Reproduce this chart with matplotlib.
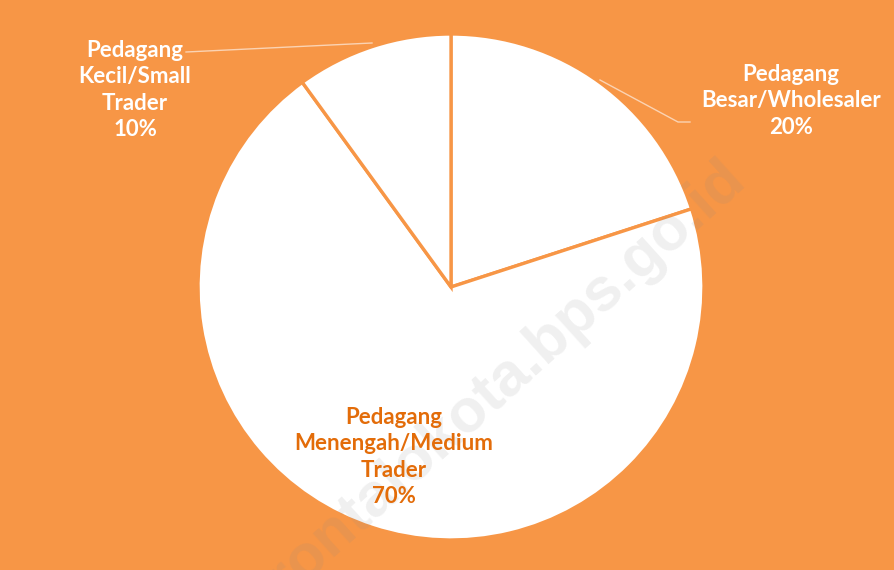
import matplotlib
matplotlib.use("Agg")
import matplotlib.pyplot as plt

categories = ["Pedagang\nBesar/Wholesaler", "Pedagang\nMenengah/Medium\nTrader", "Pedagang\nKecil/Small\nTrader"]
values = [20, 70, 10]
pct_labels = ["20%", "70%", "10%"]

BG = "#F79646"
LABEL_DARK = "#E36C09"

plt.rcParams['font.family'] = ['Lato', 'DejaVu Sans']

fig = plt.figure(figsize=(8.94, 5.70), dpi=100)
fig.patch.set_facecolor(BG)
ax = fig.add_axes([0, 0, 1, 1])
ax.set_facecolor(BG)

H = 570
cx, cy, r = 451, H - 287, 253
wedges, _ = ax.pie(values, center=(cx, cy), radius=r, startangle=90, counterclock=False,
                   colors=["white"] * 3,
                   wedgeprops=dict(edgecolor=BG, linewidth=2.4), frame=True)
ax.set_xlim(0, 894)
ax.set_ylim(0, H)
ax.axis('off')

# watermark
ax.text(479, H - 404, "gorontalokota.bps.go.id", rotation=42, fontsize=44, fontweight='bold',
        family=['Liberation Sans', 'DejaVu Sans'], color='#888888', alpha=0.13,
        ha='center', va='center', zorder=5)

fs = 16
ls = 1.3
ax.text(791, H - 101, categories[0] + "\n" + pct_labels[0], ha='center', va='center', fontsize=fs,
        fontweight='bold', color='white', linespacing=ls, zorder=6)
ax.text(394, H - 457, categories[1] + "\n" + pct_labels[1], ha='center', va='center', fontsize=fs,
        fontweight='bold', color=LABEL_DARK, linespacing=ls, zorder=6)
ax.text(135, H - 90, categories[2] + "\n" + pct_labels[2], ha='center', va='center', fontsize=fs,
        fontweight='bold', color='white', linespacing=ls, zorder=6)

lc = '#FBD3B3'
ax.plot([600, 678, 690], [H - 80, H - 122, H - 122], color=lc, lw=1.0, zorder=4)
ax.plot([186, 372], [H - 52, H - 43], color=lc, lw=1.0, zorder=4)

fig.savefig("out.png", dpi=100, facecolor=BG)
